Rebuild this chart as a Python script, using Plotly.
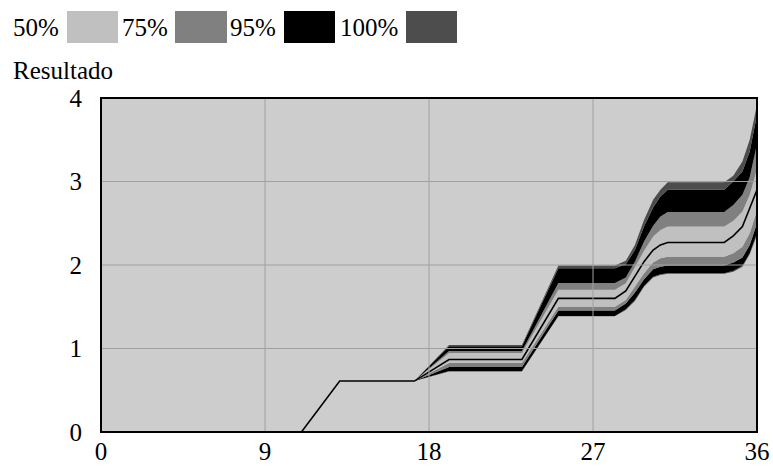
import plotly.graph_objects as go

# ---- data ----
time = [0, 11, 13.1, 17.2, 19.1, 23.1, 25.1, 28.2, 28.8, 29.3, 29.8, 30.3, 30.7, 31.1, 34.2, 34.7, 35.2, 35.6, 36]

p_min  = [0, 0, 0.61, 0.61, 0.725, 0.725, 1.385, 1.385, 1.46, 1.57, 1.74, 1.85, 1.88, 1.895, 1.895, 1.92, 1.98, 2.13, 2.36]
p_025  = [0, 0, 0.61, 0.61, 0.731, 0.731, 1.39, 1.39, 1.47, 1.58, 1.75, 1.86, 1.89, 1.90, 1.90, 1.93, 1.99, 2.14, 2.38]
p_125  = [0, 0, 0.61, 0.61, 0.778, 0.778, 1.455, 1.455, 1.54, 1.67, 1.83, 1.95, 1.98, 1.995, 1.995, 2.03, 2.09, 2.24, 2.50]
p_25   = [0, 0, 0.61, 0.61, 0.826, 0.826, 1.50, 1.50, 1.58, 1.74, 1.90, 2.03, 2.08, 2.10, 2.10, 2.14, 2.22, 2.38, 2.65]
p_med  = [0, 0, 0.61, 0.61, 0.868, 0.868, 1.60, 1.60, 1.69, 1.87, 2.04, 2.18, 2.24, 2.27, 2.27, 2.35, 2.46, 2.68, 2.90]
p_75   = [0, 0, 0.61, 0.61, 0.946, 0.946, 1.705, 1.705, 1.78, 1.97, 2.17, 2.34, 2.42, 2.46, 2.46, 2.53, 2.64, 2.84, 3.15]
p_875  = [0, 0, 0.61, 0.61, 0.970, 0.970, 1.785, 1.785, 1.85, 2.04, 2.28, 2.47, 2.58, 2.635, 2.635, 2.72, 2.84, 3.05, 3.45]
p_975  = [0, 0, 0.61, 0.61, 1.026, 1.026, 1.96, 1.96, 2.01, 2.18, 2.46, 2.69, 2.82, 2.90, 2.90, 3.00, 3.12, 3.36, 3.80]
p_max  = [0, 0, 0.61, 0.61, 1.042, 1.042, 1.995, 1.995, 2.05, 2.24, 2.54, 2.78, 2.90, 2.99, 2.99, 3.07, 3.24, 3.50, 3.92]

legend_labels = ["50%", "75%", "95%", "100%"]
band_colors = {"50%": "#c0c0c0", "75%": "#808080", "95%": "#000000", "100%": "#4d4d4d"}
x_ticks = [0, 9, 18, 27, 36]
y_ticks = [0, 1, 2, 3, 4]
y_title = "Resultado"

FONT = "Liberation Serif"
FS = 25
W, H = 773, 466
# plot-area edges in window pixels
L, R, T, B = 101, 757, 98, 432


def px(x):
    return (x - L) / (R - L)


def py(y):
    return (B - y) / (B - T)


fig = go.Figure()

stack = [
    (p_min, None),
    (p_025, band_colors["100%"]),
    (p_125, band_colors["95%"]),
    (p_25, band_colors["75%"]),
    (p_med, band_colors["50%"]),
    (p_75, band_colors["50%"]),
    (p_875, band_colors["75%"]),
    (p_975, band_colors["95%"]),
    (p_max, band_colors["100%"]),
]
for vals, col in stack:
    fig.add_trace(go.Scatter(
        x=time, y=vals, mode="lines",
        line=dict(width=0, color=col or "rgba(0,0,0,0)"),
        fill=None if col is None else "tonexty",
        fillcolor=col, showlegend=False, hoverinfo="skip"))

fig.add_trace(go.Scatter(x=time, y=p_med, mode="lines",
                         line=dict(width=1.6, color="black"),
                         showlegend=False, hoverinfo="skip"))

shapes = []
# grid drawn above the bands
for xv in x_ticks[1:-1]:
    shapes.append(dict(type="line", xref="x", yref="paper", x0=xv, x1=xv, y0=0, y1=1,
                       line=dict(color="#a0a0a0", width=1), layer="above"))
for yv in y_ticks[1:-1]:
    shapes.append(dict(type="line", xref="paper", yref="y", x0=0, x1=1, y0=yv, y1=yv,
                       line=dict(color="#a0a0a0", width=1), layer="above"))
# frame
shapes.append(dict(type="rect", xref="paper", yref="paper", x0=0, x1=1, y0=0, y1=1,
                   line=dict(color="black", width=2), layer="above"))

annotations = []
sw_x = [(67, 118), (175, 227), (284, 335), (406, 457)]
txt_x = [11, 120, 228, 338]
for lab, (a, b), tx in zip(legend_labels, sw_x, txt_x):
    shapes.append(dict(type="rect", xref="paper", yref="paper",
                       x0=px(a), x1=px(b), y0=py(43), y1=py(11),
                       fillcolor=band_colors[lab], line=dict(width=0)))
    annotations.append(dict(text=lab, xref="paper", yref="paper", x=px(tx), y=py(27),
                            xanchor="left", yanchor="middle", showarrow=False,
                            font=dict(family=FONT, size=FS, color="black")))
annotations.append(dict(text=y_title, xref="paper", yref="paper", x=px(11), y=py(70),
                        xanchor="left", yanchor="middle", showarrow=False,
                        font=dict(family=FONT, size=FS, color="black")))

fig.update_layout(
    width=W, height=H,
    margin=dict(l=L, r=W - R, t=T, b=H - B, pad=0, autoexpand=False),
    paper_bgcolor="white", plot_bgcolor="#cdcdcd",
    shapes=shapes, annotations=annotations,
    font=dict(family=FONT, size=FS, color="black"),
    xaxis=dict(range=[0, 36], tickvals=x_ticks, showgrid=False, zeroline=False,
               showline=False, ticks="", ticklabelstandoff=2,
               ticklabeloverflow="allow",
               tickfont=dict(family=FONT, size=FS), automargin=False),
    yaxis=dict(range=[0, 4], tickvals=y_ticks, showgrid=False, zeroline=False,
               showline=False, ticks="", ticklabelstandoff=18,
               ticklabeloverflow="allow",
               tickfont=dict(family=FONT, size=FS), automargin=False),
)

fig.write_html(
    "out.html",
    config={"displayModeBar": False, "staticPlot": True},
    post_script="document.body.style.margin='0';"
                "document.documentElement.style.overflow='hidden';",
)
